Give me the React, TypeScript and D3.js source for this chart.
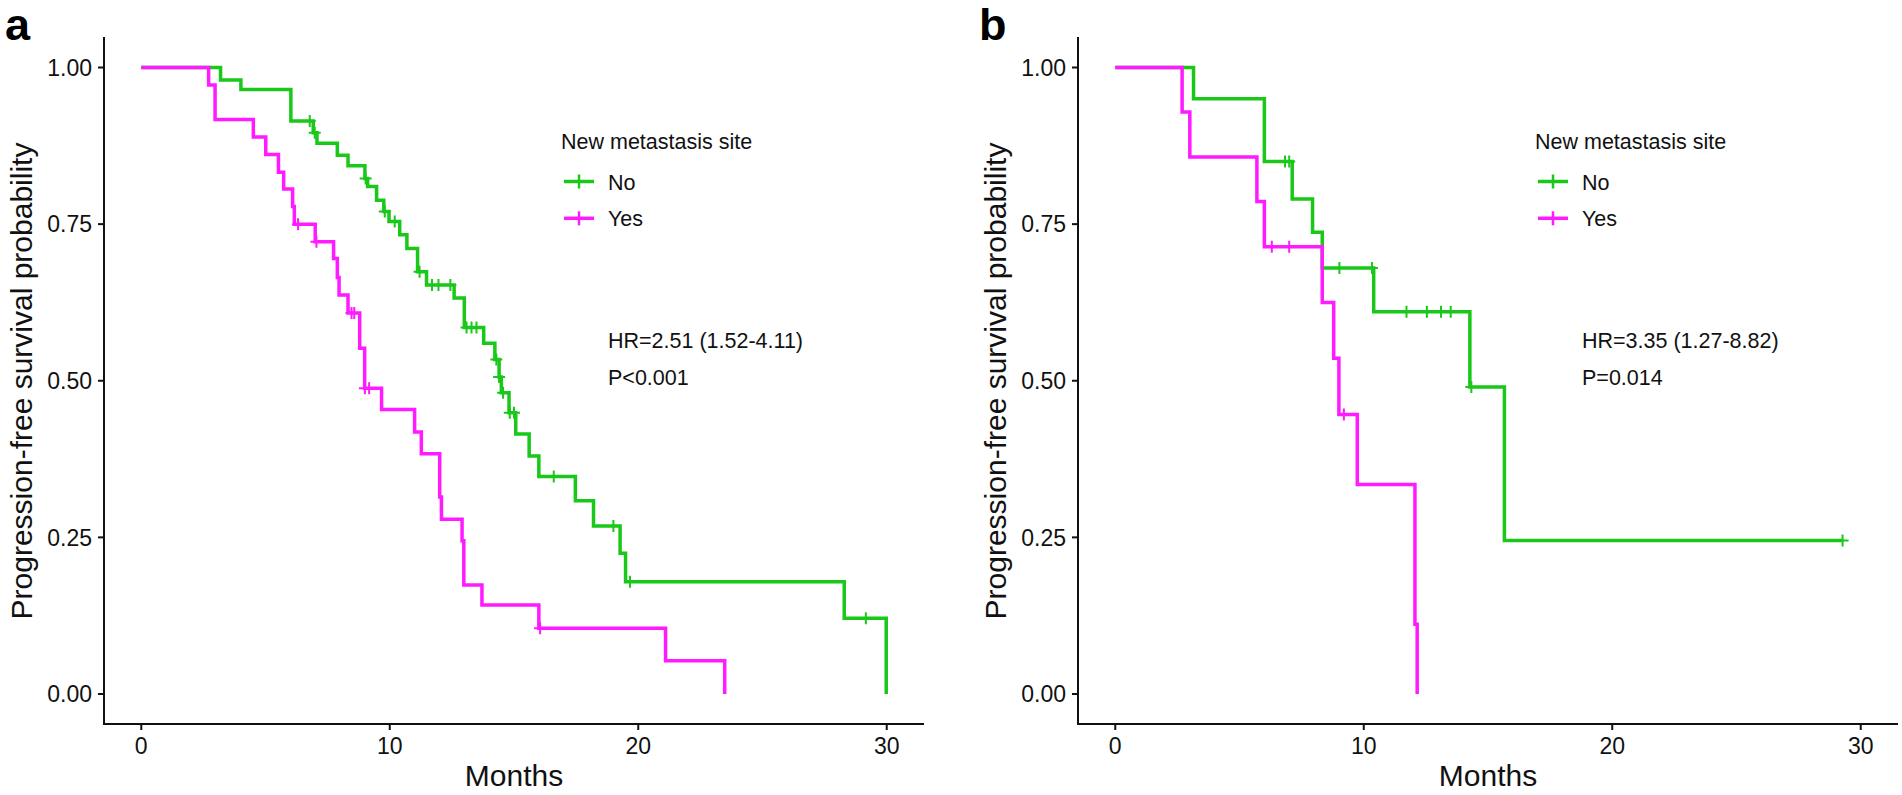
import React from "react";
import * as d3 from "d3";

// ---------- data ----------
const xTicks = [0, 10, 20, 30];
const yTicks = [0, 0.25, 0.5, 0.75, 1];
const groupLabels = ["No", "Yes"];
const legendTitle = "New metastasis site";

// Panel a — "No" (green)
const aNoTimes = [0, 3.19, 4.01, 6.02, 6.92, 7.07, 7.89, 8.32, 9.0, 9.11, 9.47, 9.76, 9.97, 10.4, 10.69, 11.12, 11.48, 12.59, 13.0, 13.78, 14.23, 14.4, 14.49, 14.8, 15.07, 15.61, 16.0, 17.47, 18.2, 19.27, 19.49, 28.29, 29.98];
const aNoSurv = [1, 0.98, 0.965, 0.9145, 0.896, 0.879, 0.86, 0.843, 0.823, 0.81, 0.788, 0.77, 0.754, 0.733, 0.711, 0.674, 0.653, 0.632, 0.585, 0.56, 0.534, 0.506, 0.481, 0.449, 0.415, 0.38, 0.347, 0.3085, 0.268, 0.2245, 0.179, 0.121, 0];
const aNoCensorTimes = [6.78, 6.98, 9.03, 9.8, 10.2, 11.2, 11.7, 11.96, 12.44, 13.09, 13.29, 13.49, 14.29, 14.4, 14.56, 14.83, 15.0, 16.6, 19.0, 19.67, 29.16];
const aNoCensorSurv = [0.9145, 0.896, 0.823, 0.77, 0.754, 0.674, 0.653, 0.653, 0.653, 0.585, 0.585, 0.585, 0.534, 0.506, 0.481, 0.449, 0.449, 0.347, 0.268, 0.179, 0.121];

// Panel a — "Yes" (magenta)
const aYesTimes = [0, 2.71, 2.97, 4.51, 5.01, 5.52, 5.73, 6.09, 6.16, 7.0, 7.74, 7.89, 7.96, 8.32, 8.79, 8.99, 9.67, 11.0, 11.27, 12.01, 12.08, 12.91, 12.98, 13.71, 16.0, 21.1, 23.48];
const aYesSurv = [1, 0.972, 0.917, 0.889, 0.861, 0.833, 0.806, 0.778, 0.75, 0.722, 0.695, 0.665, 0.637, 0.608, 0.552, 0.488, 0.454, 0.418, 0.3835, 0.3144, 0.2788, 0.2446, 0.174, 0.142, 0.105, 0.053, 0];
const aYesCensorTimes = [6.31, 7.05, 8.46, 8.57, 9.0, 9.17, 16.05];
const aYesCensorSurv = [0.75, 0.722, 0.608, 0.608, 0.488, 0.488, 0.105];

// Panel b — "No" (green)
const bNoTimes = [0, 3.15, 6.0, 7.12, 7.94, 8.33, 10.4, 14.27, 15.66, 29.27];
const bNoSurv = [1, 0.95, 0.85, 0.79, 0.737, 0.68, 0.61, 0.49, 0.245, 0.245];
const bNoCensorTimes = [6.83, 7.0, 9.02, 10.33, 11.72, 12.54, 13.11, 13.5, 14.33, 29.27];
const bNoCensorSurv = [0.85, 0.85, 0.68, 0.68, 0.61, 0.61, 0.61, 0.61, 0.49, 0.245];

// Panel b — "Yes" (magenta)
const bYesTimes = [0, 2.69, 3.0, 5.7, 6.0, 8.33, 8.79, 9.0, 9.74, 12.06, 12.15];
const bYesSurv = [1, 0.929, 0.857, 0.786, 0.714, 0.625, 0.536, 0.446, 0.3345, 0.1115, 0];
const bYesCensorTimes = [6.3, 7.0, 9.2];
const bYesCensorSurv = [0.714, 0.714, 0.446];

const panelLetters = ["a", "b"];
const hrTexts = ["HR=2.51 (1.52-4.11)", "HR=3.35 (1.27-8.82)"];
const pTexts = ["P<0.001", "P=0.014"];

// ---------- style ----------
const GREEN = "#19c819";
const MAGENTA = "#ff1aff";
const FONT = "'Liberation Sans', Arial, Helvetica, sans-serif";
const colors = [GREEN, MAGENTA];

type Series = { times: number[]; surv: number[]; cT: number[]; cS: number[] };

const panels: { series: Series[] }[] = [
  {
    series: [
      { times: aNoTimes, surv: aNoSurv, cT: aNoCensorTimes, cS: aNoCensorSurv },
      { times: aYesTimes, surv: aYesSurv, cT: aYesCensorTimes, cS: aYesCensorSurv },
    ],
  },
  {
    series: [
      { times: bNoTimes, surv: bNoSurv, cT: bNoCensorTimes, cS: bNoCensorSurv },
      { times: bYesTimes, surv: bYesSurv, cT: bYesCensorTimes, cS: bYesCensorSurv },
    ],
  },
];

const PANEL_DX = 974;
const AXIS_X0 = 104; // y-axis position in panel a
const AXIS_W = 820;
const AXIS_TOP = 37;
const AXIS_BOTTOM = 724;

function Panel({ idx }: { idx: number }) {
  const ox = idx * PANEL_DX;
  const x = d3.scaleLinear().domain([-1.5, 31.5]).range([ox + AXIS_X0, ox + AXIS_X0 + AXIS_W]);
  const y = d3.scaleLinear().domain([0, 1]).range([694, 67.5]);
  const line = d3
    .line<[number, number]>()
    .x((d) => x(d[0]))
    .y((d) => y(d[1]))
    .curve(d3.curveStepAfter);
  const fmt = d3.format(".2f");
  const p = panels[idx];
  const lx = ox + AXIS_X0; // panel origin for legend offsets
  const cs = 6;

  return (
    <g>
      <text x={ox + 5} y={40} fontFamily={FONT} fontWeight="bold" fontSize={45} fill="#000">
        {panelLetters[idx]}
      </text>
      {/* curves */}
      {p.series.map((s, i) => (
        <g key={i}>
          <path
            d={line(s.times.map((t, k) => [t, s.surv[k]] as [number, number])) || ""}
            fill="none"
            stroke={colors[i]}
            strokeWidth={3.5}
          />
          {s.cT.map((t, k) => (
            <path
              key={k}
              d={`M${x(t) - cs},${y(s.cS[k])}H${x(t) + cs}M${x(t)},${y(s.cS[k]) - cs}V${y(s.cS[k]) + cs}`}
              stroke={colors[i]}
              strokeWidth={2}
              fill="none"
            />
          ))}
        </g>
      ))}
      {/* axes */}
      <line x1={ox + AXIS_X0} x2={ox + AXIS_X0} y1={AXIS_TOP} y2={AXIS_BOTTOM + 1} stroke="#111" strokeWidth={2} />
      <line x1={ox + AXIS_X0 - 1} x2={ox + AXIS_X0 + AXIS_W} y1={AXIS_BOTTOM} y2={AXIS_BOTTOM} stroke="#111" strokeWidth={2} />
      {yTicks.map((t) => (
        <g key={t}>
          <line x1={ox + AXIS_X0 - 6} x2={ox + AXIS_X0} y1={y(t)} y2={y(t)} stroke="#111" strokeWidth={2} />
          <text
            x={ox + AXIS_X0 - 12}
            y={y(t)}
            dy="0.36em"
            textAnchor="end"
            fontFamily={FONT}
            fontSize={23}
            fill="#111"
          >
            {fmt(t)}
          </text>
        </g>
      ))}
      {xTicks.map((t) => (
        <g key={t}>
          <line x1={x(t)} x2={x(t)} y1={AXIS_BOTTOM} y2={AXIS_BOTTOM + 6} stroke="#111" strokeWidth={2} />
          <text x={x(t)} y={AXIS_BOTTOM + 30} textAnchor="middle" fontFamily={FONT} fontSize={23} fill="#111">
            {t}
          </text>
        </g>
      ))}
      <text
        x={ox + AXIS_X0 + AXIS_W / 2}
        y={786}
        textAnchor="middle"
        fontFamily={FONT}
        fontSize={30}
        fill="#111"
      >
        Months
      </text>
      <text
        transform={`translate(${ox + 32},${381}) rotate(-90)`}
        textAnchor="middle"
        fontFamily={FONT}
        fontSize={30}
        fill="#111"
      >
        Progression-free survival probability
      </text>
      {/* legend */}
      <text x={lx + 457} y={149} fontFamily={FONT} fontSize={21.5} fill="#111">
        {legendTitle}
      </text>
      {groupLabels.map((g, i) => {
        const ly = 181.5 + i * 36.8;
        return (
          <g key={g}>
            <line x1={lx + 460} x2={lx + 490} y1={ly} y2={ly} stroke={colors[i]} strokeWidth={3.5} />
            <line x1={lx + 475} x2={lx + 475} y1={ly - 7} y2={ly + 7} stroke={colors[i]} strokeWidth={2.5} />
            <text x={lx + 504} y={ly + 8} fontFamily={FONT} fontSize={21.5} fill="#111">
              {g}
            </text>
          </g>
        );
      })}
      <text x={lx + 504} y={348} fontFamily={FONT} fontSize={21.5} fill="#111">
        {hrTexts[idx]}
      </text>
      <text x={lx + 504} y={385} fontFamily={FONT} fontSize={21.5} fill="#111">
        {pTexts[idx]}
      </text>
    </g>
  );
}

export default function App() {
  return (
    <div style={{ position: "fixed", left: 0, top: 0, width: 1902, height: 795, background: "#fff" }}>
      <svg width={1902} height={795} style={{ display: "block" }}>
        <rect width={1902} height={795} fill="#fff" />
        <Panel idx={0} />
        <Panel idx={1} />
      </svg>
    </div>
  );
}
